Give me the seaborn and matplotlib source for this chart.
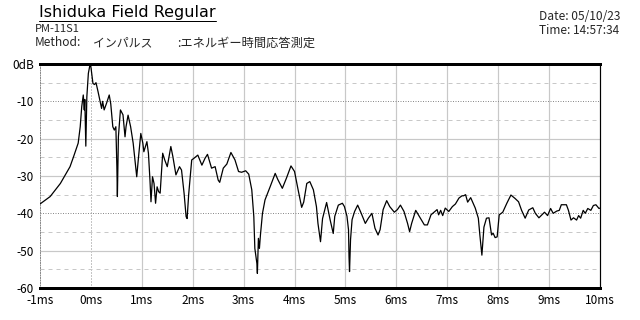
import numpy as np
import pandas as pd
import matplotlib
matplotlib.use("Agg")
import matplotlib.pyplot as plt
from matplotlib.lines import Line2D
import seaborn as sns

# ---- data ----
time_ms = [
    -1.0, -0.8, -0.6, -0.41, -0.34, -0.25, -0.21, -0.18, -0.15, -0.13, -0.12, -0.10, -0.08, -0.05,
    -0.02, 0.0, 0.04, 0.07, 0.10, 0.14, 0.21, 0.23, 0.26, 0.31, 0.36, 0.39, 0.43, 0.46, 0.49,
    0.51, 0.52, 0.54, 0.58, 0.63, 0.67, 0.69, 0.73, 0.78, 0.83, 0.90, 0.93, 0.98, 1.02, 1.04,
    1.10, 1.13, 1.16, 1.18, 1.21, 1.24, 1.27, 1.30, 1.33, 1.36, 1.41, 1.45, 1.50, 1.57, 1.61,
    1.67, 1.74, 1.78, 1.83, 1.87, 1.89, 1.92, 1.95, 1.98, 2.02, 2.10, 2.18, 2.24, 2.29, 2.37,
    2.44, 2.50, 2.53, 2.60, 2.67, 2.75, 2.83, 2.90, 2.96, 3.04, 3.10, 3.16, 3.20, 3.22, 3.26,
    3.27, 3.29, 3.31, 3.33, 3.37, 3.42, 3.52, 3.62, 3.67, 3.76, 3.84, 3.93, 4.00, 4.07, 4.14,
    4.18, 4.24, 4.30, 4.37, 4.43, 4.46, 4.51, 4.55, 4.63, 4.70, 4.76, 4.79, 4.86, 4.94, 4.98,
    5.03, 5.06, 5.07, 5.08, 5.10, 5.13, 5.18, 5.24, 5.31, 5.39, 5.45, 5.52, 5.58, 5.64, 5.68,
    5.74, 5.81, 5.87, 5.96, 6.02, 6.08, 6.15, 6.22, 6.26, 6.30, 6.38, 6.45, 6.55, 6.61, 6.68,
    6.74, 6.80, 6.83, 6.87, 6.91, 6.96, 7.03, 7.10, 7.16, 7.23, 7.29, 7.32, 7.36, 7.40, 7.46,
    7.55, 7.61, 7.64, 7.68, 7.72, 7.77, 7.82, 7.87, 7.90, 7.94, 7.98, 8.02, 8.09, 8.17, 8.25,
    8.33, 8.40, 8.46, 8.53, 8.60, 8.68, 8.73, 8.80, 8.86, 8.91, 8.97, 9.03, 9.08, 9.15, 9.20,
    9.24, 9.34, 9.38, 9.43, 9.48, 9.54, 9.58, 9.62, 9.67, 9.71, 9.76, 9.82, 9.87, 9.92, 9.98,
    10.0,
]
level_db = [
    -37.5, -35.5, -32.0, -27.5, -24.8, -21.2, -16.8, -11.4, -8.3, -12.3, -9.5, -22.0, -8.8, -2.5,
    -0.3, -0.8, -5.2, -5.5, -5.0, -7.4, -11.9, -10.0, -12.3, -10.4, -8.3, -10.7, -16.8, -17.7, -16.8,
    -27.5, -35.5, -19.5, -12.3, -13.6, -19.5, -16.8, -13.7, -16.8, -21.2, -30.2, -25.7, -18.6, -21.2, -23.5,
    -20.8, -23.9, -31.1, -36.9, -30.2, -32.0, -37.3, -32.9, -34.2, -34.6, -23.9, -25.7, -27.5, -22.1, -24.8,
    -29.7, -27.5, -28.4, -34.6, -40.9, -41.4, -35.0, -30.2, -25.7, -25.3, -24.4, -27.1, -25.3, -24.2, -27.9,
    -27.5, -31.1, -31.7, -27.9, -26.8, -23.7, -25.7, -28.8, -29.0, -28.6, -29.5, -33.7, -40.9, -49.4, -53.4,
    -56.1, -46.7, -49.4, -45.8, -40.0, -36.4, -32.9, -29.3, -30.9, -33.3, -30.6, -27.3, -28.8, -33.7, -38.4,
    -37.0, -32.0, -31.5, -33.7, -38.2, -42.7, -47.6, -41.4, -37.1, -41.8, -45.4, -40.8, -37.8, -37.3, -38.2,
    -40.8, -44.4, -51.6, -55.6, -47.0, -41.7, -39.5, -37.8, -40.0, -42.7, -41.3, -40.0, -44.0, -45.8, -44.4,
    -39.0, -36.6, -38.2, -39.7, -39.0, -37.8, -39.5, -42.7, -44.9, -42.7, -39.2, -40.8, -43.1, -43.1, -40.4,
    -39.7, -39.0, -40.4, -39.2, -40.6, -38.6, -39.5, -38.2, -37.5, -35.9, -35.3, -35.3, -35.0, -37.0, -35.8,
    -38.6, -41.3, -45.8, -51.2, -43.7, -41.3, -41.2, -45.8, -45.3, -46.5, -46.3, -40.4, -39.7, -37.3, -35.1,
    -36.0, -36.9, -39.2, -41.3, -39.1, -38.5, -40.0, -41.2, -40.4, -39.7, -40.6, -38.7, -40.0, -39.4, -39.2,
    -37.7, -37.7, -39.2, -41.8, -41.2, -41.8, -40.6, -41.3, -39.2, -40.0, -38.7, -39.2, -37.9, -37.7, -38.7,
    -38.6,
]
x_ticks = [-1, 0, 1, 2, 3, 4, 5, 6, 7, 8, 9, 10]
x_tick_labels = ["-1ms", "0ms", "1ms", "2ms", "3ms", "4ms", "5ms", "6ms", "7ms", "8ms", "9ms", "10ms"]
y_ticks = [0, -10, -20, -30, -40, -50, -60]
y_tick_labels = ["0dB", "-10", "-20", "-30", "-40", "-50", "-60"]
y_minor = [-5, -15, -25, -35, -45, -55]
y_dotted = [-10, -40]

title_text = "Ishiduka Field Regular"
model_text = "PM-11S1"
method_label = "Method:"
method_name = "インパルス"
method_desc = ":エネルギー時間応答測定"
date_text = "Date: 05/10/23"
time_text = "Time: 14:57:34"

# ---- style ----
sns.set_style("white")
plt.rcParams["font.family"] = ["Noto Sans CJK JP", "DejaVu Sans"]

W, H = 640, 320
fig = plt.figure(figsize=(6.4, 3.2), dpi=100)
ax = fig.add_axes([40 / W, 1 - 288 / H, 560 / W, 224 / H])

px = 0.72  # points per pixel
light = "#c8c8c8"
mid = "#8c8c8c"

for xv in x_ticks[1:-1]:
    if xv == 0:
        ax.axvline(xv, color=mid, lw=1 * px, ls=(0, (1, 2)), zorder=1)
    else:
        ax.axvline(xv, color=light, lw=1.2 * px, ls="-", zorder=1)
for yv in y_ticks[1:-1]:
    if yv in y_dotted:
        ax.axhline(yv, color=mid, lw=1 * px, ls=(0, (1, 1.5)), zorder=1)
    else:
        ax.axhline(yv, color=light, lw=1.2 * px, ls="-", zorder=1)
for yv in y_minor:
    ax.axhline(yv, color=light, lw=1 * px, ls=(0, (4, 4)), zorder=1)

df = pd.DataFrame({"time": time_ms, "level": level_db})
sns.lineplot(data=df, x="time", y="level", ax=ax, color="black", lw=0.9, zorder=3)

ax.set_xlim(-1, 10)
ax.set_ylim(-60, 0)
ax.set_xticks(x_ticks)
ax.set_xticklabels(x_tick_labels)
ax.set_yticks(y_ticks)
ax.set_yticklabels(y_tick_labels)
ax.set_xlabel("")
ax.set_ylabel("")
ax.tick_params(axis="both", direction="out", length=3, width=0.8, color="black",
               labelsize=8.5, labelcolor="black", pad=1.5)
ax.tick_params(axis="x", pad=1)

for side in ["top", "bottom"]:
    ax.spines[side].set_linewidth(3 * px)
    ax.spines[side].set_color("black")
ax.spines["right"].set_linewidth(1.2 * px)
ax.spines["right"].set_color("black")
ax.spines["left"].set_linewidth(1 * px)
ax.spines["left"].set_color(mid)
ax.spines["left"].set_linestyle((0, (1, 1.5)))
for s in ax.spines.values():
    s.set_visible(True)

# ---- header texts ----
t = fig.text(39 / W, 1 - 13 / H, title_text, fontsize=11.5, family=["DejaVu Sans"],
             va="center", ha="left", color="black")
fig.text(35 / W, 1 - 29 / H, model_text, fontsize=8, va="center", ha="left")
fig.text(35 / W, 1 - 43 / H, method_label, fontsize=8.6, va="center", ha="left")
fig.text(93 / W, 1 - 43 / H, method_name, fontsize=8.6, va="center", ha="left")
fig.text(177 / W, 1 - 43 / H, method_desc, fontsize=8.8, va="center", ha="left")
fig.text(539 / W, 1 - 17 / H, date_text, fontsize=8.6, va="center", ha="left")
fig.text(539 / W, 1 - 30 / H, time_text, fontsize=8.6, va="center", ha="left")

fig.canvas.draw()
bb = t.get_window_extent()
y_ul = 1 - 21 / H
fig.add_artist(Line2D([bb.x0 / W, bb.x1 / W], [y_ul, y_ul], color="black", lw=1 * px))

fig.savefig("out.png", dpi=100)
